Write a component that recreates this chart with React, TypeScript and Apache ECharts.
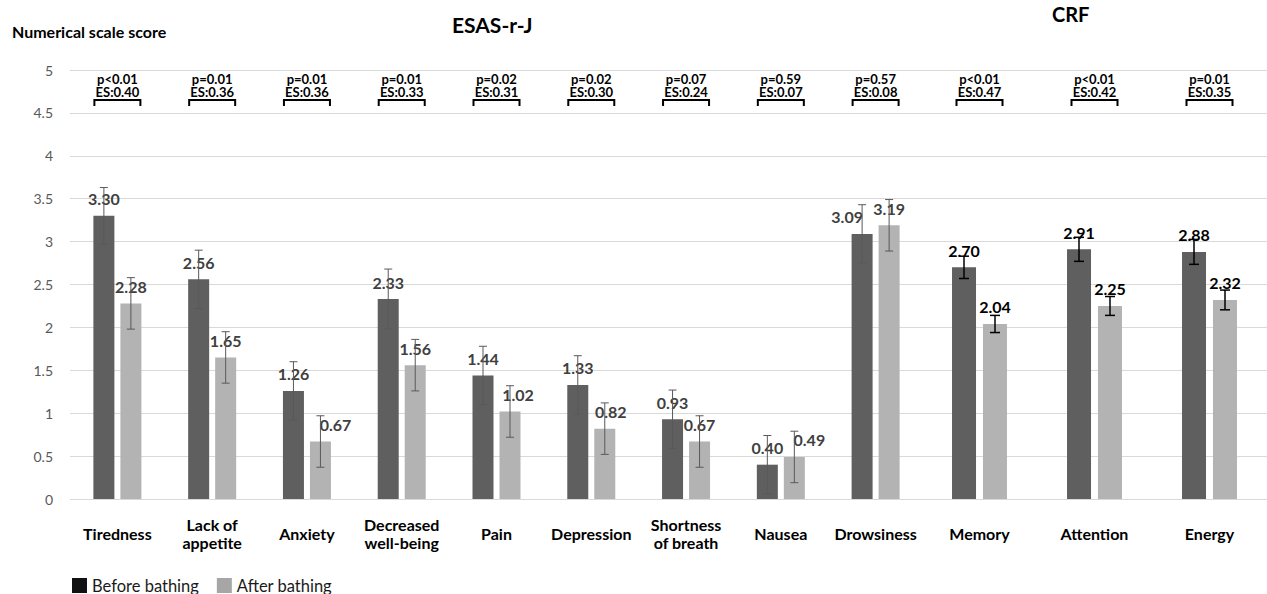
import React, { useEffect, useRef } from 'react';
import * as echarts from 'echarts';

// ---------- data ----------
const esasCategories = ['Tiredness', 'Lack of\nappetite', 'Anxiety', 'Decreased\nwell-being', 'Pain', 'Depression', 'Shortness\nof breath', 'Nausea', 'Drowsiness'];
const esasBefore = [3.30, 2.56, 1.26, 2.33, 1.44, 1.33, 0.93, 0.40, 3.09];
const esasAfter = [2.28, 1.65, 0.67, 1.56, 1.02, 0.82, 0.67, 0.49, 3.19];
const esasBeforeErr = [0.33, 0.34, 0.34, 0.35, 0.34, 0.34, 0.34, 0.34, 0.34];
const esasAfterErr = [0.30, 0.30, 0.30, 0.30, 0.30, 0.30, 0.30, 0.30, 0.30];
const esasP = ['p<0.01', 'p=0.01', 'p=0.01', 'p=0.01', 'p=0.02', 'p=0.02', 'p=0.07', 'p=0.59', 'p=0.57'];
const esasES = ['ES:0.40', 'ES:0.36', 'ES:0.36', 'ES:0.33', 'ES:0.31', 'ES:0.30', 'ES:0.24', 'ES:0.07', 'ES:0.08'];

const crfCategories = ['Memory', 'Attention', 'Energy'];
const crfBefore = [2.70, 2.91, 2.88];
const crfAfter = [2.04, 2.25, 2.32];
const crfBeforeErr = [0.13, 0.14, 0.145];
const crfAfterErr = [0.10, 0.11, 0.115];
const crfP = ['p<0.01', 'p<0.01', 'p=0.01'];
const crfES = ['ES:0.47', 'ES:0.42', 'ES:0.35'];

const seriesNames = ['Before bathing', 'After bathing'];
const yMin = 0;
const yMax = 5;
const yInterval = 0.5;
const bracketLevel = 4.65;

// ---------- styles ----------
const FONT = 'Lato';
const DARK = '#5f5f5f';
const LIGHT = '#b3b3b3';

function errorBarRender(offset: number, color: string, lw: number, cap: number) {
  return (params: any, api: any) => {
    const idx = api.value(0);
    const v = api.value(1);
    const e = api.value(2);
    const hi = api.coord([idx, v + e]);
    const lo = api.coord([idx, v - e]);
    const x = hi[0] + offset;
    const style = { stroke: color, lineWidth: lw };
    return {
      type: 'group',
      children: [
        { type: 'line', shape: { x1: x, y1: hi[1], x2: x, y2: lo[1] }, style },
        { type: 'line', shape: { x1: x - cap / 2, y1: hi[1], x2: x + cap / 2, y2: hi[1] }, style },
        { type: 'line', shape: { x1: x - cap / 2, y1: lo[1], x2: x + cap / 2, y2: lo[1] }, style },
      ],
    };
  };
}

function annotRender(pArr: string[], esArr: string[], fontSize: number, halfW: number) {
  return (params: any, api: any) => {
    const idx = api.value(0);
    const pt = api.coord([idx, api.value(1)]);
    const x = pt[0];
    const y = pt[1];
    const txt = (text: string, ty: number) => ({
      type: 'text', x, y: ty,
      style: {
        text, align: 'center', verticalAlign: 'middle',
        fontFamily: FONT, fontWeight: 'bold', fontSize,
        fill: '#000',
      },
    });
    return {
      type: 'group',
      children: [
        {
          type: 'polyline',
          shape: { points: [[x - halfW, y + 6], [x - halfW, y], [x + halfW, y], [x + halfW, y + 6]] },
          style: { stroke: '#000', lineWidth: 2, fill: null },
        },
        txt(pArr[idx], y - 21.5),
        txt(esArr[idx], y - 8),
      ],
    };
  };
}

function barLabel(color: string) {
  return {
    show: true,
    position: 'top',
    distance: 9,
    formatter: (p: any) => Number(p.value).toFixed(2),
    fontFamily: FONT,
    fontWeight: 'bold',
    fontSize: 16,
    color,
  };
}

function buildOption() {
  const yAxisBase = {
    type: 'value',
    min: yMin,
    max: yMax,
    interval: yInterval,
    axisLine: { show: false },
    axisTick: { show: false },
    splitLine: { lineStyle: { color: '#d9d9d9', width: 1 } },
  };
  const xAxisBase = {
    type: 'category',
    axisLine: { show: false },
    axisTick: { show: false },
    axisLabel: {
      interval: 0,
      margin: 34,
      verticalAlign: 'middle',
      fontFamily: FONT,
      fontWeight: 'bold',
      fontSize: 16,
      lineHeight: 18,
      color: '#000',
    },
  };
  // horizontal nudges of a few value labels, as in the reference
  const esasBeforeShift: Record<number, number> = { 8: -15 };
  const esasAfterShift: Record<number, number> = { 2: 15, 4: 8, 5: 6, 7: 15 };
  const withShift = (arr: number[], shift: Record<number, number>) =>
    arr.map((v, i) => (shift[i] ? { value: v, label: { offset: [shift[i], 0] } } : v));

  return {
    animation: false,
    backgroundColor: '#fff',
    textStyle: { fontFamily: FONT },
    title: [
      { text: 'Numerical scale score', left: 12, top: 23, padding: 0, textStyle: { fontFamily: FONT, fontWeight: 'bold', fontSize: 16, color: '#000' } },
      { text: 'ESAS-r-J', left: 452, top: 14, padding: 0, textStyle: { fontFamily: FONT, fontWeight: 'bold', fontSize: 21, color: '#000' } },
      { text: 'CRF', left: 1052, top: 4, padding: 0, textStyle: { fontFamily: FONT, fontWeight: 'bold', fontSize: 20, color: '#000' } },
    ],
    legend: {
      left: 72,
      top: 577,
      padding: 0,
      icon: 'rect',
      itemWidth: 15,
      itemHeight: 15,
      itemGap: 18,
      selectedMode: false,
      data: [
        { name: seriesNames[0], itemStyle: { color: '#111111' } },
        { name: seriesNames[1], itemStyle: { color: '#a6a6a6' } },
      ],
      textStyle: { fontFamily: FONT, fontSize: 16.5, color: '#1a1a1a' },
    },
    grid: [
      { left: 70, top: 70, width: 853, height: 429 },
      { left: 922, top: 70, width: 355, height: 429 },
    ],
    xAxis: [
      { ...xAxisBase, gridIndex: 0, data: esasCategories },
      { ...xAxisBase, gridIndex: 1, data: crfCategories },
    ],
    yAxis: [
      { ...yAxisBase, gridIndex: 0, axisLabel: { margin: 17, fontFamily: FONT, fontSize: 14, color: '#595959' } },
      { ...yAxisBase, gridIndex: 1, axisLabel: { show: false } },
    ],
    series: [
      {
        name: seriesNames[0], type: 'bar', xAxisIndex: 0, yAxisIndex: 0,
        barWidth: 21, barGap: '28.6%', itemStyle: { color: DARK }, z: 2,
        label: barLabel('#404040'),
        data: withShift(esasBefore, esasBeforeShift),
      },
      {
        name: seriesNames[1], type: 'bar', xAxisIndex: 0, yAxisIndex: 0,
        barWidth: 21, barGap: '28.6%', itemStyle: { color: LIGHT }, z: 2,
        label: barLabel('#404040'),
        data: withShift(esasAfter, esasAfterShift),
      },
      {
        name: seriesNames[0], type: 'bar', xAxisIndex: 1, yAxisIndex: 1,
        barWidth: 24, barGap: '29%', itemStyle: { color: DARK }, z: 2,
        label: barLabel('#000000'),
        data: crfBefore,
      },
      {
        name: seriesNames[1], type: 'bar', xAxisIndex: 1, yAxisIndex: 1,
        barWidth: 24, barGap: '29%', itemStyle: { color: LIGHT }, z: 2,
        label: barLabel('#000000'),
        data: crfAfter,
      },
      {
        type: 'custom', xAxisIndex: 0, yAxisIndex: 0, z: 10, silent: true,
        renderItem: errorBarRender(-13.5, '#595959', 1, 8),
        encode: { x: 0, y: 1 },
        data: esasBefore.map((v, i) => [i, v, esasBeforeErr[i]]),
      },
      {
        type: 'custom', xAxisIndex: 0, yAxisIndex: 0, z: 10, silent: true,
        renderItem: errorBarRender(13.5, '#595959', 1, 8),
        encode: { x: 0, y: 1 },
        data: esasAfter.map((v, i) => [i, v, esasAfterErr[i]]),
      },
      {
        type: 'custom', xAxisIndex: 1, yAxisIndex: 1, z: 10, silent: true,
        renderItem: errorBarRender(-15.5, '#000000', 1.5, 10),
        encode: { x: 0, y: 1 },
        data: crfBefore.map((v, i) => [i, v, crfBeforeErr[i]]),
      },
      {
        type: 'custom', xAxisIndex: 1, yAxisIndex: 1, z: 10, silent: true,
        renderItem: errorBarRender(15.5, '#000000', 1.5, 10),
        encode: { x: 0, y: 1 },
        data: crfAfter.map((v, i) => [i, v, crfAfterErr[i]]),
      },
      {
        type: 'custom', xAxisIndex: 0, yAxisIndex: 0, z: 10, silent: true,
        renderItem: annotRender(esasP, esasES, 13, 23),
        encode: { x: 0, y: 1 },
        data: esasP.map((_, i) => [i, bracketLevel]),
      },
      {
        type: 'custom', xAxisIndex: 1, yAxisIndex: 1, z: 10, silent: true,
        renderItem: annotRender(crfP, crfES, 13, 23),
        encode: { x: 0, y: 1 },
        data: crfP.map((_, i) => [i, bracketLevel]),
      },
    ],
  };
}

export default function App() {
  const ref = useRef<HTMLDivElement>(null);
  useEffect(() => {
    if (!ref.current) return;
    const chart = echarts.init(ref.current, undefined, { renderer: 'svg' });
    chart.setOption(buildOption() as any);
    return () => chart.dispose();
  }, []);
  return <div ref={ref} style={{ position: 'absolute', left: 0, top: 0, width: 1267, height: 594, overflow: 'hidden' }} />;
}
